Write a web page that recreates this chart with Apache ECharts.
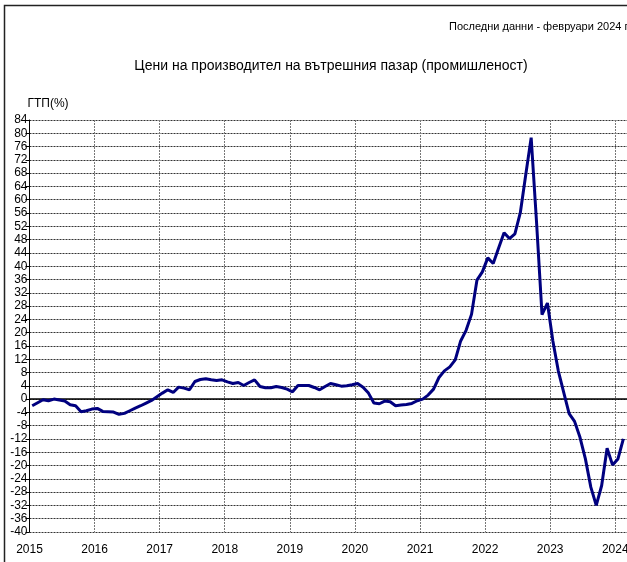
<!DOCTYPE html>
<html>
<head>
<meta charset="utf-8">
<script src="https://cdn.jsdelivr.net/npm/echarts@6/dist/echarts.min.js"></script>
<style>
  html, body { margin: 0; padding: 0; background: #fff; }
  #chart { width: 627px; height: 562px; }
</style>
</head>
<body>
<div id="chart"></div>
<script>
  // monthly values, Jan 2015 .. Feb 2024 (year-on-year change, %)
  var startYear = 2015
  var years = [2015, 2016, 2017, 2018, 2019, 2020, 2021, 2022, 2023, 2024]
  var v2015 = [-2.0, -1.1, -0.2, -0.5, 0.0, -0.3, -0.6, -1.7, -2.0, -3.8, -3.5, -3.0]
  var v2016 = [-2.8, -3.7, -3.8, -3.9, -4.6, -4.3, -3.5, -2.7, -2.0, -1.2, -0.4, 0.7]
  var v2017 = [1.8, 2.8, 2.0, 3.6, 3.3, 2.8, 5.3, 5.9, 6.1, 5.8, 5.6, 5.8]
  var v2018 = [5.2, 4.7, 5.0, 4.1, 5.0, 5.8, 3.8, 3.4, 3.4, 3.8, 3.5, 3.0]
  var v2019 = [2.2, 4.1, 4.1, 4.1, 3.5, 2.8, 3.8, 4.7, 4.3, 3.9, 4.0, 4.3]
  var v2020 = [4.7, 3.6, 1.8, -1.2, -1.4, -0.6, -0.8, -2.0, -1.8, -1.6, -1.3, -0.5]
  var v2021 = [0.0, 1.2, 3.0, 6.5, 8.5, 9.7, 11.8, 17.5, 20.7, 25.5, 35.8, 38.3]
  var v2022 = [42.5, 40.8, 45.5, 50.1, 48.3, 49.7, 56.1, 67.5, 78.7, 53.0, 25.4, 28.9]
  var v2023 = [17.5, 8.5, 2.0, -4.4, -6.7, -11.5, -18.0, -26.5, -32.0, -26.0, -14.8, -19.8]
  var v2024 = [-18.0, -12.0]

  var allValues = [].concat(v2015, v2016, v2017, v2018, v2019, v2020, v2021, v2022, v2023, v2024)
  var seriesData = allValues.map(function (v, i) {
    // points sit in the middle of their month
    return [startYear + (i + 0.5) / 12, v]
  })

  var font = '"Liberation Sans", Arial, sans-serif'

  var myChart = echarts.init(document.getElementById('chart'))

  var option = {
    animation: false,
    backgroundColor: '#fff',
    textStyle: { fontFamily: font },
    title: [
      {
        text: 'Цени на производител на вътрешния пазар (промишленост)',
        left: 326,
        top: 54,
        textAlign: 'center',
        textStyle: { fontFamily: font, fontSize: 14, fontWeight: 'normal', color: '#000' }
      },
      {
        text: 'Последни данни - февруари 2024 г',
        left: 444,
        top: 16,
        textStyle: { fontFamily: font, fontSize: 11, fontWeight: 'normal', color: '#000' }
      }
    ],
    graphic: [
      {
        type: 'rect',
        shape: { x: 4.5, y: 5.5, width: 700, height: 700 },
        style: { fill: null, stroke: '#222', lineWidth: 1.5 },
        silent: true
      }
    ],
    grid: {
      left: 29.5,
      top: 120,
      width: 602,
      height: 412,
      containLabel: false,
      outerBoundsMode: 'none'
    },
    xAxis: {
      type: 'value',
      min: 2015,
      max: 2024.25,
      interval: 1,
      axisLine: { show: false },
      axisTick: { show: false },
      axisLabel: {
        margin: 12,
        fontFamily: font,
        fontSize: 12,
        color: '#000',
        showMaxLabel: false,
        formatter: function (v) {
          return years.indexOf(v) >= 0 ? String(v) : ''
        }
      },
      splitLine: {
        show: true,
        lineStyle: { color: '#777', type: [2, 1], width: 1 }
      }
    },
    yAxis: {
      type: 'value',
      min: -40,
      max: 84,
      interval: 4,
      name: 'ГТП(%)',
      nameLocation: 'end',
      nameGap: 10,
      nameTextStyle: { fontFamily: font, fontSize: 12, color: '#000', align: 'left', padding: [0, 0, 0, -2] },
      axisLine: { show: true, lineStyle: { color: '#000', width: 1 } },
      axisTick: { show: true, length: 4, lineStyle: { color: '#000' } },
      axisLabel: {
        margin: 2,
        fontFamily: font,
        fontSize: 12,
        color: '#000'
      },
      splitLine: {
        show: true,
        lineStyle: { color: '#333', type: [2, 1], width: 1.2 }
      }
    },
    series: [
      {
        name: 'ГТП',
        type: 'line',
        data: seriesData,
        showSymbol: false,
        symbol: 'none',
        lineStyle: { color: '#00007f', width: 3 },
        z: 5,
        markLine: {
          silent: true,
          symbol: 'none',
          label: { show: false },
          lineStyle: { color: '#000', type: 'solid', width: 1.5 },
          data: [{ yAxis: 0 }],
          z: 3
        }
      }
    ]
  }
  myChart.setOption(option)
</script>
</body>
</html>
